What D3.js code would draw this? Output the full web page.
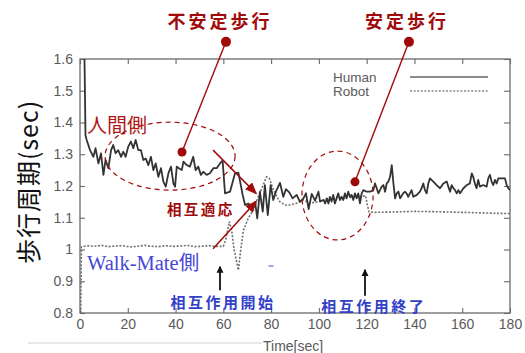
<!DOCTYPE html>
<html><head><meta charset="utf-8">
<script src="https://cdn.jsdelivr.net/npm/d3@7"></script>
<style>body{margin:0;background:#fff}svg{display:block}</style>
</head><body>
<svg id="chart" width="525" height="353"></svg>
<script>
// Step period of the human walker and of the Walk-Mate robot over time
const humanTime = [1.8,2.3,2.8,4.2,5.6,6.5,7.7,8.8,9.8,10.7,11.9,13,13.9,14.9,16,17.2,18.1,19.1,20.2,21.3,22.3,23.3,24.4,25.5,26.5,27.5,28.6,29.7,30.7,31.7,32.8,33.9,34.9,35.9,37,38.1,39.1,39.8,40.5,41.4,42.6,43.3,44.7,46,47.4,48.4,49.5,50.6,51.6,53,54.4,55.8,57.2,58.6,59.7,60.7,62.8,64.9,66.3,68.1,69.1,70.5,71.9,73.3,74.2,75.3,76.5,77.4,78.6,79.8,80.9,82,83.7,85.1,86.2,87.6,89,90.7,92.1,93.5,94.6,95.7,97,98.4,99.8,100.5,101.9,102.6,103.3,104,104.6,105.3,106,106.7,107.4,108.1,108.8,109.5,110.2,110.9,111.6,112.3,113,113.7,114.4,115.1,115.8,116.5,117.2,117.9,118.6,120,121.4,122.8,123.5,124.2,124.9,125.6,126.3,127,127.7,128.4,129.1,129.8,130.5,131.2,131.9,132.6,133.3,134,135.3,136,136.7,137.4,138.1,138.8,139.5,141,142.3,143,143.7,144.4,145.1,145.8,146.5,147.9,149.3,150.7,152.1,153.5,154.2,154.9,155.6,156.3,157,157.7,158.4,159.1,160.5,161.9,163.2,164,164.6,165.3,166,166.7,167.4,168.8,170.2,170.9,171.6,172.3,173,173.7,174.4,175.1,176.5,177.9,178.6,179.3,180];
const humanPeriod = [1.65,1.36,1.345,1.313,1.292,1.319,1.271,1.303,1.235,1.282,1.256,1.313,1.329,1.303,1.313,1.292,1.308,1.292,1.324,1.34,1.319,1.345,1.313,1.313,1.282,1.287,1.266,1.292,1.25,1.271,1.229,1.256,1.214,1.198,1.24,1.261,1.208,1.198,1.261,1.256,1.25,1.277,1.266,1.261,1.292,1.25,1.261,1.235,1.245,1.235,1.24,1.256,1.256,1.271,1.28,1.177,1.182,1.24,1.242,1.172,1.14,1.145,1.13,1.15,1.098,1.182,1.119,1.203,1.108,1.203,1.156,1.182,1.21,1.166,1.19,1.18,1.161,1.172,1.15,1.161,1.177,1.127,1.175,1.154,1.182,1.151,1.156,1.145,1.161,1.145,1.166,1.151,1.172,1.145,1.161,1.177,1.156,1.166,1.156,1.177,1.161,1.182,1.166,1.172,1.156,1.177,1.161,1.177,1.145,1.177,1.187,1.182,1.182,1.187,1.208,1.193,1.177,1.187,1.198,1.203,1.182,1.208,1.214,1.229,1.266,1.208,1.161,1.177,1.182,1.161,1.177,1.182,1.177,1.166,1.177,1.187,1.166,1.172,1.182,1.193,1.208,1.187,1.177,1.208,1.224,1.214,1.203,1.193,1.208,1.214,1.198,1.182,1.203,1.193,1.187,1.177,1.187,1.177,1.193,1.203,1.208,1.24,1.229,1.208,1.193,1.219,1.198,1.203,1.198,1.224,1.235,1.214,1.203,1.219,1.208,1.224,1.224,1.224,1.203,1.193,1.187];
const robotTime = [0.3,0.6,3,6,9,12,15,18,21,24,27,30,33,36,39,42,45,48,51,54,57,60,61,62.5,63.5,64.5,66.3,67.3,68.4,70.5,72.6,74.6,76.7,78.1,79.2,80.4,81.6,83.7,85.8,87.9,90.7,93.5,96.3,99.1,101.9,104,106,108,110,112,114,116,118,119.5,120.3,121,124,130,140,150,160,170,180];
const robotPeriod = [0.8,1.008,1.012,1.01,1.013,1.009,1.011,1.012,1.008,1.01,1.013,1.01,1.009,1.012,1.01,1.011,1.013,1.009,1.01,1.012,1.01,1.01,1.03,1.088,1.06,1.0,0.935,1.0,1.06,1.1,1.124,1.166,1.203,1.229,1.225,1.2,1.177,1.15,1.14,1.14,1.146,1.156,1.146,1.15,1.156,1.16,1.158,1.165,1.16,1.168,1.162,1.17,1.166,1.17,1.14,1.118,1.117,1.118,1.12,1.119,1.117,1.115,1.113];
const xTicks = [0,20,40,60,80,100,120,140,160,180];
const yTicks = [0.8,0.9,1.0,1.1,1.2,1.3,1.4,1.5,1.6];
const seriesNames = ["Human","Robot"];

const svg = d3.select("#chart");
const x = d3.scaleLinear([0,180],[80,510]);
const y = d3.scaleLinear([0.8,1.6],[313,59]);

const RED = "#a00a0a", BLUE = "#3240c8", AXIS = "#6a6a6a", TXT = "#5a5a5a";
const latin = "'Liberation Sans', Arial, sans-serif";
const cjk = "'Noto Sans CJK JP', 'Noto Sans', sans-serif";

const defs = svg.append("defs");
defs.append("clipPath").attr("id","plot").append("rect")
  .attr("x",x(0)).attr("y",y(1.6)).attr("width",x(180)-x(0)).attr("height",y(0.8)-y(1.6));
defs.append("marker").attr("id","redHead").attr("viewBox","0 0 12 10")
  .attr("refX",11).attr("refY",5).attr("markerWidth",12).attr("markerHeight",10)
  .attr("markerUnits","userSpaceOnUse").attr("orient","auto")
  .append("path").attr("d","M0,0L12,5L0,10Z").attr("fill",RED);
defs.append("marker").attr("id","blackHead").attr("viewBox","0 0 8 8")
  .attr("refX",7).attr("refY",4).attr("markerWidth",7).attr("markerHeight",8)
  .attr("markerUnits","userSpaceOnUse").attr("orient","auto")
  .append("path").attr("d","M0,0L8,4L0,8Z").attr("fill","#111");

// axes with inward ticks on all four sides
const tickFmt = d3.format("~g");
function styleAxis(g){
  g.select(".domain").remove();
  g.selectAll(".tick line").attr("stroke",AXIS).attr("stroke-width",1.1);
  g.selectAll(".tick text").attr("fill",TXT).style("font-family",latin).style("font-size","14px");
}
svg.append("g").attr("transform",`translate(0,${y(0.8)})`)
  .call(d3.axisBottom(x).tickValues(xTicks).tickFormat(tickFmt).tickSizeInner(-5).tickSizeOuter(0).tickPadding(6))
  .call(styleAxis);
svg.append("g").attr("transform",`translate(0,${y(1.6)})`)
  .call(d3.axisTop(x).tickValues(xTicks).tickFormat("").tickSizeInner(-5).tickSizeOuter(0))
  .call(styleAxis);
svg.append("g").attr("transform",`translate(${x(0)},0)`)
  .call(d3.axisLeft(y).tickValues(yTicks).tickFormat(tickFmt).tickSizeInner(-5).tickSizeOuter(0).tickPadding(7))
  .call(styleAxis);
svg.append("g").attr("transform",`translate(${x(180)},0)`)
  .call(d3.axisRight(y).tickValues(yTicks).tickFormat("").tickSizeInner(-6).tickSizeOuter(0))
  .call(styleAxis);
svg.append("rect").attr("x",x(0)).attr("y",y(1.6)).attr("width",x(180)-x(0)).attr("height",y(0.8)-y(1.6))
  .attr("fill","none").attr("stroke",AXIS).attr("stroke-width",1.3);

svg.append("text").attr("x",263).attr("y",351).text("Time[sec]")
  .attr("fill",TXT).style("font-family",latin).style("font-size","14px");
svg.append("text").attr("transform","translate(38,182) rotate(-90)").attr("text-anchor","middle")
  .text("歩行周期(sec)").attr("fill","#111").style("font-family",cjk).style("font-size","25px")
  .style("letter-spacing","1px");

// series
const line = d3.line().x(d=>x(d[0])).y(d=>y(d[1]));
const plot = svg.append("g").attr("clip-path","url(#plot)");
plot.append("path").datum(robotTime.map((t,i)=>[t,robotPeriod[i]]))
  .attr("d",line).attr("fill","none").attr("stroke","#707070").attr("stroke-width",1.6)
  .attr("stroke-dasharray","2,1.6");
plot.append("path").datum(humanTime.map((t,i)=>[t,humanPeriod[i]]))
  .attr("d",line).attr("fill","none").attr("stroke","#333").attr("stroke-width",1.8)
  .attr("stroke-linejoin","round");

// legend
const legend = svg.append("g");
seriesNames.forEach((name,i)=>{
  const ly = 77 + i*14;
  legend.append("text").attr("x",333).attr("y",ly+5).text(name)
    .attr("fill",TXT).style("font-family",latin).style("font-size","13.5px");
  legend.append("line").attr("x1",410).attr("x2",488).attr("y1",ly).attr("y2",ly)
    .attr("stroke", i===0 ? "#666" : "#888").attr("stroke-width", i===0 ? 1.6 : 1.4)
    .attr("stroke-dasharray", i===0 ? null : "2,1.6");
});

// annotations
const ann = svg.append("g");
ann.append("ellipse").attr("cx",x(37.7)).attr("cy",y(1.294)).attr("rx",x(27.2)-x(0)).attr("ry",y(0.8)-y(0.907))
  .attr("fill","none").attr("stroke",RED).attr("stroke-width",1.2).attr("stroke-dasharray","5,4");
ann.append("ellipse").attr("cx",x(107.8)).attr("cy",y(1.17)).attr("rx",x(14.9)-x(0)).attr("ry",y(0.8)-y(0.94))
  .attr("fill","none").attr("stroke",RED).attr("stroke-width",1.2).attr("stroke-dasharray","5,4");

[[61.1,1.654,42.7,1.307],[137.7,1.654,115.1,1.213]].forEach(([t1,v1,t2,v2])=>{
  ann.append("line").attr("x1",x(t1)).attr("y1",y(v1)).attr("x2",x(t2)).attr("y2",y(v2))
    .attr("stroke",RED).attr("stroke-width",1.4);
  ann.append("circle").attr("cx",x(t1)).attr("cy",y(v1)).attr("r",5).attr("fill",RED);
  ann.append("circle").attr("cx",x(t2)).attr("cy",y(v2)).attr("r",4.5).attr("fill",RED);
});

[[55.7,1.313,73.8,1.176],[55.7,1.002,73.8,1.152]].forEach(([t1,v1,t2,v2])=>{
  ann.append("line").attr("x1",x(t1)).attr("y1",y(v1)).attr("x2",x(t2)).attr("y2",y(v2))
    .attr("stroke",RED).attr("stroke-width",1.5).attr("marker-end","url(#redHead)");
});

[[58.6,0.872,0.946],[119.3,0.854,0.936]].forEach(([t,v1,v2])=>{
  ann.append("line").attr("x1",x(t)).attr("y1",y(v1)).attr("x2",x(t)).attr("y2",y(v2))
    .attr("stroke","#111").attr("stroke-width",1.8).attr("marker-end","url(#blackHead)");
});
ann.append("line").attr("x1",x(78.9)).attr("x2",x(81)).attr("y1",y(0.948)).attr("y2",y(0.948))
  .attr("stroke","#5a66e0").attr("stroke-width",1.2);

function label(text,t,v,opts){
  return ann.append("text").attr("x",x(t)).attr("y",y(v)).text(text)
    .attr("text-anchor",opts.anchor||"middle").attr("dominant-baseline",opts.baseline||"central")
    .attr("fill",opts.color).style("font-family",opts.font||cjk).style("font-size",opts.size+"px")
    .style("font-weight",opts.weight||"normal").style("letter-spacing",(opts.spacing||0)+"px");
}
label("不安定歩行",58.6,1.723,{color:RED,size:18,weight:"bold",spacing:3});
label("安定歩行",136.9,1.723,{color:RED,size:18,weight:"bold",spacing:3});
label("人間側",2.9,1.395,{color:"#b01818",size:20,anchor:"start"});
label("相互適応",50.6,1.128,{color:RED,size:14.5,weight:"bold",spacing:2.5});
label("相互作用開始",59.9,0.835,{color:BLUE,size:15,weight:"bold",spacing:2.5});
label("相互作用終了",123,0.825,{color:BLUE,size:15,weight:"bold",spacing:2.5});
const wm = ann.append("text").attr("x",x(2.9)).attr("y",y(0.935))
  .attr("fill","#4646d6").style("font-size","20.5px");
wm.append("tspan").text("Walk-Mate").style("font-family","'Liberation Serif', 'Times New Roman', serif");
wm.append("tspan").text("側").style("font-family",cjk);

// faint rule along the lower margin
svg.append("line").attr("x1",28).attr("x2",262).attr("y1",343).attr("y2",343)
  .attr("stroke","#e2e2e2").attr("stroke-width",1.5);
</script>
</body></html>
